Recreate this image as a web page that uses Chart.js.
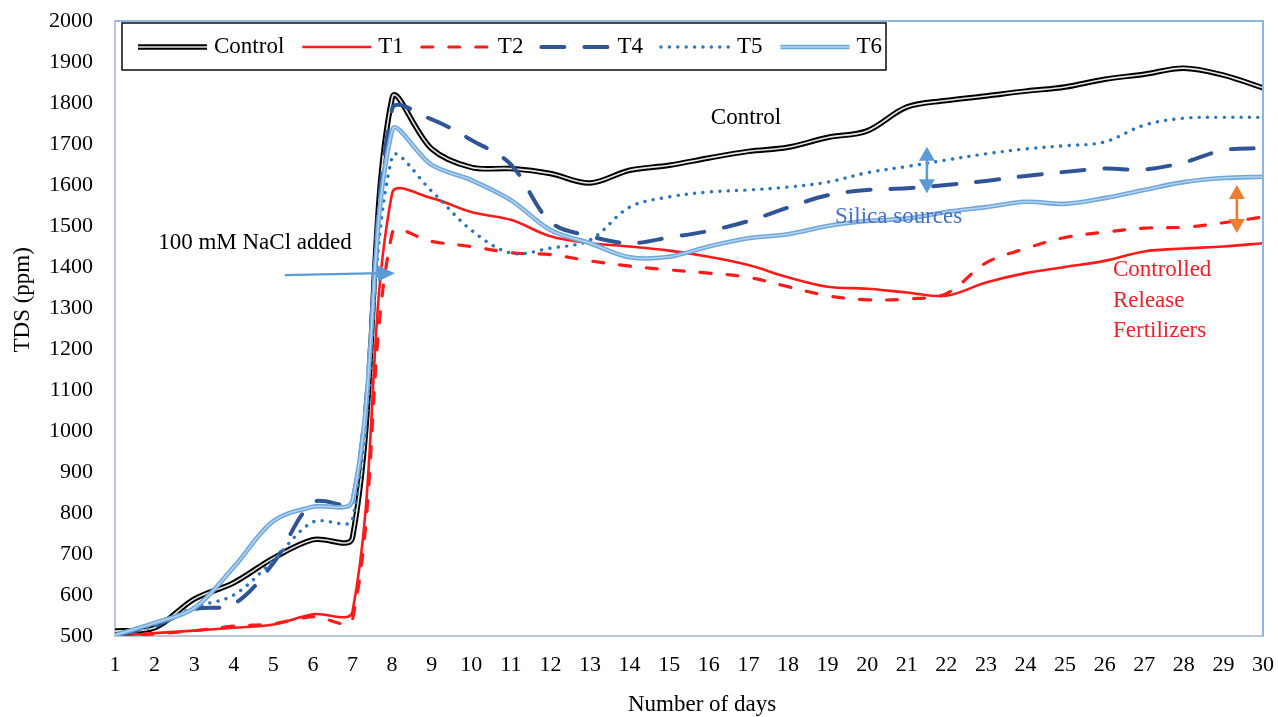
<!DOCTYPE html>
<html>
<head>
<meta charset="utf-8">
<script src="https://cdn.jsdelivr.net/npm/chart.js@4.4.1/dist/chart.umd.min.js"></script>
<style>
  html, body { margin: 0; padding: 0; background: #ffffff; }
  #wrap { width: 1278px; height: 717px; }
</style>
</head>
<body>
<div id="wrap"><canvas id="tds" width="1278" height="717"></canvas></div>
<script>
// Days of the experiment and total dissolved solids (ppm) per treatment
const days = [1, 2, 3, 4, 5, 6, 7, 8, 9, 10, 11, 12, 13, 14, 15, 16, 17, 18, 19, 20, 21, 22, 23, 24, 25, 26, 27, 28, 29, 30];

const controlTds = [512, 520, 590, 630, 690, 735, 740, 1812, 1688, 1643, 1640, 1628, 1605, 1636, 1648, 1666, 1682, 1692, 1716, 1732, 1790, 1806, 1817, 1829, 1839, 1858, 1870, 1885, 1868, 1837];
const t1Tds = [500, 507, 513, 520, 528, 553, 560, 1580, 1568, 1534, 1515, 1475, 1458, 1450, 1440, 1425, 1405, 1375, 1352, 1347, 1338, 1330, 1362, 1385, 1400, 1415, 1438, 1445, 1450, 1458];
const t2Tds = [500, 505, 513, 524, 530, 547, 540, 1482, 1462, 1450, 1435, 1430, 1415, 1402, 1393, 1385, 1375, 1352, 1330, 1320, 1322, 1335, 1410, 1445, 1472, 1485, 1495, 1497, 1508, 1522];
const t4Tds = [500, 525, 565, 578, 678, 825, 830, 1785, 1760, 1710, 1650, 1510, 1475, 1458, 1472, 1488, 1512, 1545, 1575, 1588, 1592, 1600, 1610, 1622, 1632, 1640, 1638, 1655, 1685, 1690];
const t5Tds = [500, 525, 570, 600, 685, 778, 785, 1668, 1585, 1490, 1434, 1446, 1466, 1546, 1571, 1583, 1588, 1595, 1607, 1630, 1645, 1661, 1676, 1688, 1696, 1705, 1746, 1763, 1765, 1765];
const t6Tds = [502, 532, 568, 668, 780, 815, 830, 1733, 1649, 1612, 1563, 1490, 1458, 1424, 1425, 1450, 1470, 1480, 1500, 1512, 1518, 1534, 1546, 1559, 1554, 1568, 1588, 1607, 1617, 1620];

const yMin = 500, yMax = 2000, yStep = 100;

const SERIF = '"Liberation Serif", "Times New Roman", serif';

// plot rectangle inside the 1278 x 717 canvas
const plotBox = { left: 115, top: 21, right: 1263, bottom: 636 };

function pts(values) {
  return days.map((d, i) => ({ x: d, y: values[i] }));
}

const datasets = [
  { label: 'Control', data: pts(controlTds), borderColor: '#000000', borderWidth: 5.5, order: 10 },
  { label: 'Control', data: pts(controlTds), borderColor: '#e6e6e6', borderWidth: 1.6, order: 9 },
  { label: 'T1', data: pts(t1Tds), borderColor: '#ff1a1a', borderWidth: 2.6, order: 8 },
  { label: 'T2', data: pts(t2Tds), borderColor: '#ff1a1a', borderWidth: 3.2, borderDash: [11, 16], borderCapStyle: 'round', order: 7 },
  { label: 'T4', data: pts(t4Tds), borderColor: '#2f5597', borderWidth: 4, borderDash: [23, 20], borderCapStyle: 'round', order: 6 },
  { label: 'T5', data: pts(t5Tds), borderColor: '#2e75b6', borderWidth: 3.4, borderDash: [0.1, 8.3], borderCapStyle: 'round', order: 5 },
  { label: 'T6', data: pts(t6Tds), borderColor: '#6fa8dc', borderWidth: 4.6, order: 4 },
  { label: 'T6', data: pts(t6Tds), borderColor: '#b7d4ef', borderWidth: 1.5, order: 3 }
];

function arrowHead(ctx, tipX, tipY, dx, dy, len, half) {
  const n = Math.hypot(dx, dy), ux = dx / n, uy = dy / n;
  const bx = tipX - ux * len, by = tipY - uy * len;
  ctx.beginPath();
  ctx.moveTo(tipX, tipY);
  ctx.lineTo(bx - uy * half, by + ux * half);
  ctx.lineTo(bx + uy * half, by - ux * half);
  ctx.closePath();
  ctx.fill();
}

function doubleArrow(ctx, x, yTop, yBot, color) {
  ctx.strokeStyle = color; ctx.fillStyle = color; ctx.lineWidth = 2.6; ctx.setLineDash([]);
  ctx.beginPath(); ctx.moveTo(x, yTop + 10); ctx.lineTo(x, yBot - 10); ctx.stroke();
  arrowHead(ctx, x, yTop, 0, -1, 14, 8);
  arrowHead(ctx, x, yBot, 0, 1, 14, 8);
}

const decorations = {
  id: 'decorations',
  afterDatasetsDraw(chart) {
    const { ctx, chartArea: a, scales: { x, y } } = chart;
    const px = d => x.getPixelForValue(d);
    const py = v => y.getPixelForValue(v);
    ctx.save();

    // plot frame: top and right edges
    ctx.strokeStyle = '#8db4e2'; ctx.lineWidth = 2; ctx.setLineDash([]);
    ctx.beginPath();
    ctx.moveTo(a.left, a.top); ctx.lineTo(a.right, a.top); ctx.lineTo(a.right, a.bottom);
    ctx.stroke();

    // legend box
    const lx = a.left + 7, ly = a.top + 2, lw = 764, lh = 47;
    ctx.strokeStyle = '#1a1a1a'; ctx.lineWidth = 1.6;
    ctx.fillStyle = '#ffffff';
    ctx.fillRect(lx, ly, lw, lh);
    ctx.strokeRect(lx, ly, lw, lh);

    const groups = [];
    chart.data.datasets.forEach(ds => {
      let g = groups.find(e => e.label === ds.label);
      if (!g) { g = { label: ds.label, list: [] }; groups.push(g); }
      g.list.push(ds);
    });
    ctx.font = '23px ' + SERIF;
    ctx.textBaseline = 'middle';
    ctx.textAlign = 'left';
    const cy = ly + lh / 2 + 0.5;
    let cx = lx + 16;
    groups.forEach(g => {
      g.list.forEach(ds => {
        ctx.strokeStyle = ds.borderColor;
        ctx.lineWidth = ds.borderWidth;
        ctx.setLineDash(ds.borderDash || []);
        ctx.lineCap = ds.borderCapStyle || 'butt';
        ctx.beginPath(); ctx.moveTo(cx, cy); ctx.lineTo(cx + 69, cy); ctx.stroke();
      });
      ctx.setLineDash([]); ctx.lineCap = 'butt';
      ctx.fillStyle = '#000000';
      ctx.fillText(g.label, cx + 76, cy);
      cx += 76 + ctx.measureText(g.label).width + 18;
    });

    // salt addition note and arrow
    ctx.fillStyle = '#000000';
    ctx.fillText('100 mM NaCl added', px(2.09), py(1458));
    ctx.strokeStyle = '#5b9bd5'; ctx.fillStyle = '#5b9bd5'; ctx.lineWidth = 2.2;
    const ax0 = px(5.29), ay0 = py(1380), ax1 = px(8.07), ay1 = py(1385);
    ctx.beginPath(); ctx.moveTo(ax0, ay0); ctx.lineTo(ax1 - 14, ay1); ctx.stroke();
    arrowHead(ctx, ax1, ay1, ax1 - ax0, ay1 - ay0, 17, 8);

    // series notes
    ctx.fillStyle = '#000000';
    ctx.textAlign = 'center';
    ctx.fillText('Control', px(16.94), py(1763));
    ctx.textAlign = 'left';
    ctx.fillStyle = '#4472c4';
    ctx.fillText('Silica sources', px(19.19), py(1522));
    ctx.fillStyle = '#f0202a';
    ctx.fillText('Controlled', px(26.21), py(1393));
    ctx.fillText('Release', px(26.21), py(1317));
    ctx.fillText('Fertilizers', px(26.21), py(1243));

    doubleArrow(ctx, px(21.51), py(1693), py(1580), '#5b9bd5');
    doubleArrow(ctx, px(29.34), py(1600), py(1483), '#ed7d31');

    // axis titles
    ctx.fillStyle = '#000000';
    ctx.textAlign = 'center';
    ctx.fillText('Number of days', px(15.83), 705);
    ctx.translate(23, py(1320));
    ctx.rotate(-Math.PI / 2);
    ctx.fillText('TDS (ppm)', 0, 0);
    ctx.restore();
  }
};

const chart = new Chart(document.getElementById('tds'), {
  type: 'line',
  data: { datasets },
  options: {
    responsive: false,
    devicePixelRatio: 1,
    animation: false,
    events: [],
    layout: { padding: { left: 0, top: 21, right: 15, bottom: 0 } },
    elements: {
      point: { radius: 0 },
      line: { tension: 0.35, fill: false }
    },
    plugins: { legend: { display: false }, tooltip: { enabled: false } },
    scales: {
      x: {
        type: 'linear',
        min: days[0],
        max: days[days.length - 1],
        grid: { display: false, drawTicks: false },
        border: { display: true, color: '#bcc6d4', width: 2 },
        ticks: {
          stepSize: 1, autoSkip: false, maxRotation: 0,
          color: '#000000', padding: 16,
          font: { family: SERIF, size: 22 },
          callback: v => String(v)
        },
        afterFit: s => { s.height = 81; s.paddingLeft = 0; s.paddingRight = 0; }
      },
      y: {
        min: yMin,
        max: yMax,
        grid: { display: false, drawTicks: false },
        border: { display: true, color: '#bcc6d4', width: 2 },
        ticks: {
          stepSize: yStep, autoSkip: false,
          color: '#000000', padding: 22,
          font: { family: SERIF, size: 22 },
          callback: v => String(v)
        },
        afterFit: s => { s.width = 115; s.paddingTop = 0; s.paddingBottom = 0; }
      }
    }
  },
  plugins: [decorations]
});

// settle the layout so the plot rectangle lands on plotBox
for (let i = 0; i < 4; i++) {
  const a = chart.chartArea;
  const p = chart.options.layout.padding;
  const dl = plotBox.left - a.left, dt = plotBox.top - a.top;
  const dr = a.right - plotBox.right, db = a.bottom - plotBox.bottom;
  if (Math.abs(dl) + Math.abs(dt) + Math.abs(dr) + Math.abs(db) < 0.5) break;
  p.left += dl; p.top += dt; p.right += dr; p.bottom += db;
  chart.update();
}
</script>
</body>
</html>
